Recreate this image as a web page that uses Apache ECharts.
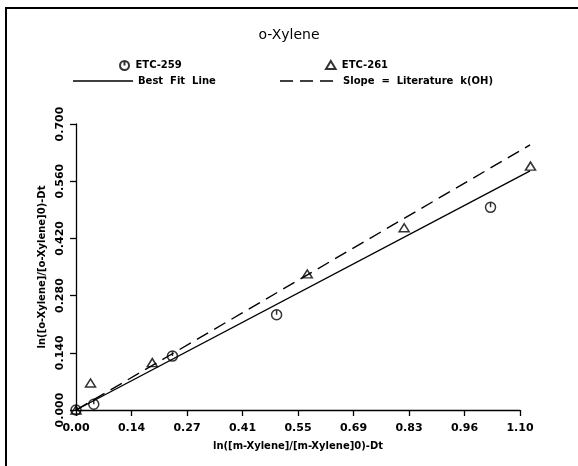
<!DOCTYPE html>
<html>
<head>
<meta charset="utf-8">
<script src="https://cdn.jsdelivr.net/npm/echarts@6/dist/echarts.min.js"></script>
<style>
html, body { margin: 0; padding: 0; background: #fff; }
#chart { width: 578px; height: 466px; }
</style>
</head>
<body>
<div id="chart"></div>
<script>
// ETC-259 (circles)
let etc259X = [0, 0.044, 0.239, 0.497, 1.027]
let etc259Y = [0, 0.014, 0.132, 0.233, 0.496]
// ETC-261 (triangles)
let etc261X = [0, 0.036, 0.189, 0.573, 0.813, 1.126]
let etc261Y = [0, 0.066, 0.116, 0.333, 0.446, 0.597]
// best fit line and literature slope line (end points)
let fitX = [0, 1.125]
let fitY = [0, 0.585]
let litX = [0, 1.125]
let litY = [0, 0.649]
// tick labels as printed
let xTickLabels = ['0.00', '0.14', '0.27', '0.41', '0.55', '0.69', '0.83', '0.96', '1.10']
let yTickLabels = ['0.000', '0.140', '0.280', '0.420', '0.560', '0.700']

function pairs (xs, ys) {
  return xs.map(function (x, i) { return [x, ys[i]] })
}

let font = 'DejaVu Sans'
let circleSym = 'path://M10,2A8,8,0,1,1,9.99,2ZM10,2L10,10'
let triSym = 'path://M10,2L19,17L1,17Z'
let solidIcon = 'path://M0,0H60V1.4H0Z'
let dashIcon = 'path://M0,0H13V1.4H0ZM20,0H33V1.4H20ZM40,0H53V1.4H40Z'
let hollow = { color: 'rgba(0,0,0,0)', borderColor: '#000', borderWidth: 1.5 }
let legendText = { color: '#000', fontFamily: font, fontWeight: 'bold', fontSize: 10 }
let spaced = function (name) { return name.split(' ').join('  ') }

// the fitted lines run a little past the x axis end, so draw them
// with a custom series (not clipped to the grid)
function lineRenderer (points, dash) {
  return function (params, api) {
    if (params.dataIndex === 0) return
    let a = api.coord(points[params.dataIndex - 1])
    let b = api.coord([api.value(0), api.value(1)])
    return {
      type: 'line',
      shape: { x1: a[0], y1: a[1], x2: b[0], y2: b[1] },
      style: { stroke: '#000', lineWidth: 1.4, lineDash: dash }
    }
  }
}
let fitPts = pairs(fitX, fitY)
let litPts = pairs(litX, litY)

let option = {
  backgroundColor: '#fff',
  animation: false,
  title: {
    text: 'o-Xylene',
    left: 'center',
    top: 23,
    textStyle: { color: '#000', fontFamily: font, fontWeight: 'normal', fontSize: 14 }
  },
  legend: [
    { data: ['ETC-259'], left: 119, top: 60, padding: 0, itemWidth: 12, itemHeight: 9, itemGap: 0,
      selectedMode: false, textStyle: legendText, formatter: spaced },
    { data: ['ETC-261'], left: 325, top: 60, padding: 0, itemWidth: 12, itemHeight: 8, itemGap: 0,
      selectedMode: false, textStyle: legendText, formatter: spaced },
    { data: [{ name: 'Best Fit Line', icon: solidIcon }], left: 73, top: 76, padding: 0,
      itemWidth: 60, itemHeight: 10, itemGap: 0, selectedMode: false,
      textStyle: legendText, formatter: spaced },
    { data: [{ name: 'Slope = Literature k(OH)', icon: dashIcon }], left: 280, top: 76, padding: 0,
      itemWidth: 53, itemHeight: 10, itemGap: 0, selectedMode: false,
      textStyle: Object.assign({ padding: [0, 0, 0, 5] }, legendText), formatter: spaced }
  ],
  grid: { left: 76, right: 58, top: 124, bottom: 56, containLabel: false },
  xAxis: {
    type: 'value',
    min: 0,
    max: 1.1,
    interval: 0.1375,
    name: 'ln([m-Xylene]/[m-Xylene]0)-Dt',
    nameLocation: 'middle',
    nameGap: 31,
    nameTextStyle: { color: '#000', fontFamily: font, fontWeight: 'bold', fontSize: 10 },
    axisLine: { lineStyle: { color: '#000', width: 1.3 } },
    axisTick: { length: 6, lineStyle: { color: '#000', width: 1.3 } },
    splitLine: { show: false },
    axisLabel: {
      margin: 13,
      color: '#000',
      fontFamily: font,
      fontWeight: 'bold',
      fontSize: 11,
      showMinLabel: true,
      showMaxLabel: true,
      formatter: function (v) { return xTickLabels[Math.round(v / 0.1375)] }
    }
  },
  yAxis: {
    type: 'value',
    min: 0,
    max: 0.7,
    interval: 0.14,
    name: 'ln([o-Xylene]/[o-Xylene]0)-Dt',
    nameLocation: 'middle',
    nameRotate: 90,
    nameGap: 27,
    nameTextStyle: { color: '#000', fontFamily: font, fontWeight: 'bold', fontSize: 10 },
    axisLine: { show: true, lineStyle: { color: '#000', width: 1.3 } },
    axisTick: { show: true, length: 6, lineStyle: { color: '#000', width: 1.3 } },
    splitLine: { show: false },
    axisLabel: {
      rotate: 90,
      margin: 10,
      color: '#000',
      fontFamily: font,
      fontWeight: 'bold',
      fontSize: 11,
      showMinLabel: true,
      showMaxLabel: true,
      formatter: function (v) { return yTickLabels[Math.round(v / 0.14)] }
    }
  },
  graphic: [
    { type: 'rect', silent: true, shape: { x: 6, y: 8, width: 640, height: 520 },
      style: { fill: 'none', stroke: '#000', lineWidth: 2 } }
  ],
  series: [
    { name: 'ETC-259', type: 'scatter', data: pairs(etc259X, etc259Y), symbol: circleSym,
      symbolSize: 10, itemStyle: hollow, clip: false, z: 4 },
    { name: 'ETC-261', type: 'scatter', data: pairs(etc261X, etc261Y), symbol: triSym,
      symbolSize: [10, 8], itemStyle: hollow, clip: false, z: 4 },
    { name: 'Best Fit Line', type: 'custom', data: fitPts, renderItem: lineRenderer(fitPts, null),
      itemStyle: { color: '#000' }, clip: false, z: 3 },
    { name: 'Slope = Literature k(OH)', type: 'custom', data: litPts, renderItem: lineRenderer(litPts, [13, 7]),
      itemStyle: { color: '#000' }, clip: false, z: 3 }
  ]
}

let chart = echarts.init(document.getElementById('chart'), null, { renderer: 'canvas' })
chart.setOption(option)
</script>
</body>
</html>
